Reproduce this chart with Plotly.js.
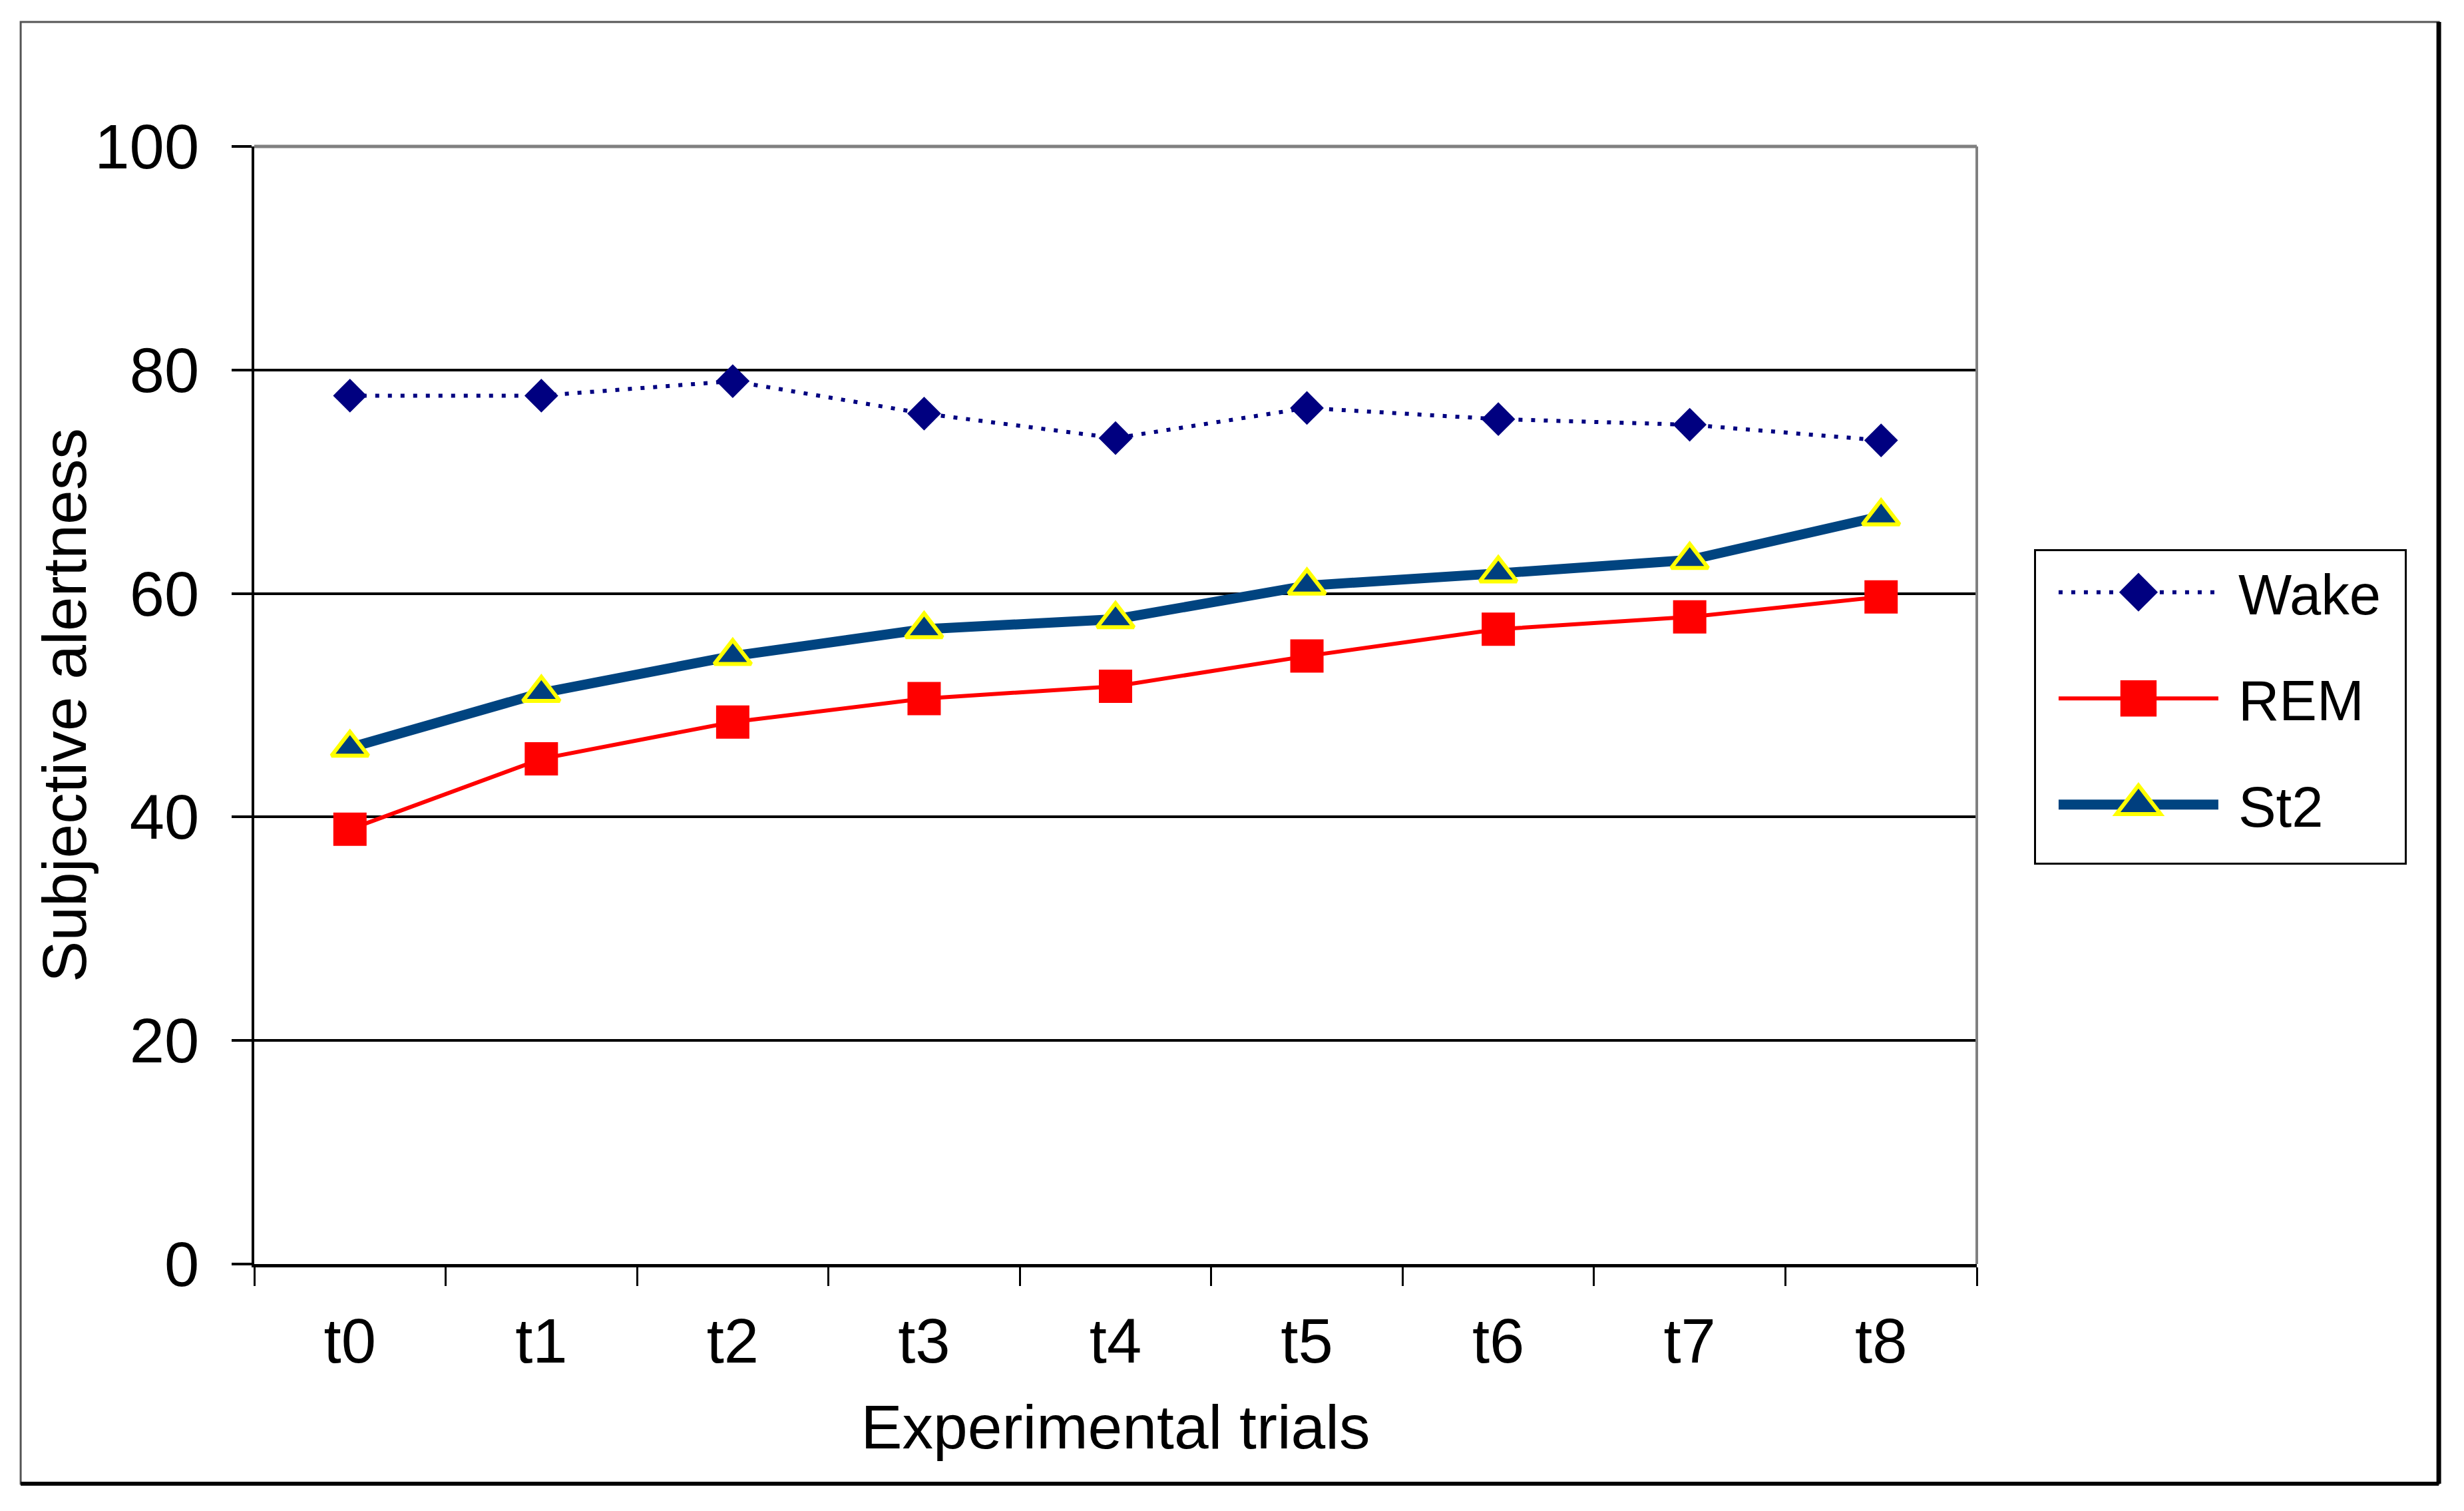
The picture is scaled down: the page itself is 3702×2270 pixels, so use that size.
<!DOCTYPE html>
<html>
<head>
<meta charset="utf-8">
<script src="https://cdn.plot.ly/plotly-3.0.1.min.js"></script>
<style>
  html, body { margin: 0; padding: 0; background: #fff; }
  #chart { width: 3702px; height: 2270px; }
</style>
</head>
<body>
<div id="chart"></div>
<script>
// ---- data ----
const trials = ["t0", "t1", "t2", "t3", "t4", "t5", "t6", "t7", "t8"];
const wake = [77.7, 77.7, 79.0, 76.1, 73.9, 76.6, 75.6, 75.1, 73.7];
const rem  = [38.9, 45.2, 48.5, 50.6, 51.7, 54.4, 56.8, 57.9, 59.7];
const st2  = [46.2, 51.1, 54.4, 56.8, 57.7, 60.7, 61.8, 63.0, 66.9];
const yTicks = [0, 20, 40, 60, 80, 100];

const FONT = "Liberation Sans, Arial, Helvetica, sans-serif";

const traces = [
  {
    x: trials, y: wake, name: "Wake", type: "scatter", mode: "lines+markers",
    legendgroup: "a",
    line: { color: "#000080", width: 6, dash: "6px,13px" },
    marker: { symbol: "diamond", size: 39, color: "#000080" }
  },
  {
    x: trials, y: rem, name: "REM", type: "scatter", mode: "lines+markers",
    legendgroup: "b",
    line: { color: "#FF0000", width: 6 },
    marker: { symbol: "square", size: 50, color: "#FF0000" }
  },
  {
    x: trials, y: st2, name: "St2", type: "scatter", mode: "lines+markers",
    legendgroup: "c",
    line: { color: "#004480", width: 15 },
    marker: { symbol: "triangle-up", size: 48, color: "#003F7F",
              line: { color: "#FFFF00", width: 6 } }
  }
];

const layout = {
  width: 3702, height: 2270,
  margin: { l: 382, r: 732, t: 220, b: 371, pad: 0 },
  paper_bgcolor: "#ffffff", plot_bgcolor: "#ffffff",
  font: { family: FONT, color: "#000", size: 93 },
  showlegend: true,
  legend: {
    x: 1.0332, y: 0.6397, xanchor: "left", yanchor: "top",
    bordercolor: "#000", borderwidth: 3, bgcolor: "#fff",
    font: { family: FONT, size: 85, color: "#000" },
    traceorder: "grouped", tracegroupgap: 46, itemwidth: 240
  },
  xaxis: {
    type: "category", range: [-0.5, 8.5], fixedrange: true,
    showgrid: false, zeroline: false,
    showline: true, linecolor: "#000", linewidth: 5,
    ticks: "outside", tickson: "boundaries", ticklen: 28, tickwidth: 3, tickcolor: "#000",
    tickfont: { family: FONT, size: 94, color: "#000" },
    ticklabelstandoff: 30,
    title: { text: "Experimental trials", font: { family: FONT, size: 93, color: "#000" }, standoff: 47 }
  },
  yaxis: {
    range: [0, 100], tickvals: yTicks, fixedrange: true,
    showgrid: true, gridcolor: "#000", gridwidth: 4, zeroline: false,
    showline: true, linecolor: "#000", linewidth: 4,
    ticks: "outside", ticklen: 30, tickwidth: 4, tickcolor: "#000",
    tickfont: { family: FONT, size: 94, color: "#000" },
    ticklabelstandoff: 30,
    title: { text: "Subjective alertness", font: { family: FONT, size: 93, color: "#000" }, standoff: 0 }
  },
  shapes: [
    // plot area top and right border (gray)
    { type: "line", xref: "paper", yref: "paper", x0: 0, x1: 1, y0: 1, y1: 1,
      line: { color: "#808080", width: 5 }, layer: "above" },
    { type: "line", xref: "paper", yref: "paper", x0: 1, x1: 1, y0: 0, y1: 1,
      line: { color: "#808080", width: 4 }, layer: "above" },
    // outer chart frame
    { type: "rect", xref: "paper", yref: "paper", x0: -0.1356, x1: 1.2682, y0: -0.1965, y1: 1.1114,
      line: { color: "#555", width: 3 }, layer: "below" },
    { type: "line", xref: "paper", yref: "paper", x0: 1.2682, x1: 1.2682, y0: -0.1965, y1: 1.1114,
      line: { color: "#000", width: 7 }, layer: "above" },
    { type: "line", xref: "paper", yref: "paper", x0: -0.1356, x1: 1.2682, y0: -0.1965, y1: -0.1965,
      line: { color: "#000", width: 6 }, layer: "above" }
  ]
};

// legend symbol tuning (Plotly caps legend marker size at 16px)
const legendTune = {
  "Wake": { scale: 2.8, strokeWidth: 0, lineWidth: null },
  "REM":  { scale: 3.4, strokeWidth: 0, lineWidth: null },
  "St2":  { scale: 3.6, strokeWidth: 6, lineWidth: 15 }
};
const LEG_SHIFT_SYMBOL = 29, LEG_SHIFT_TEXT = 54, LEG_W = 557, LEG_H = 471;
const YTITLE_SHIFT = 17;

const gd = document.getElementById("chart");
Plotly.newPlot(gd, traces, layout, { staticPlot: true, displayModeBar: false }).then(function () {
  try {
    const leg = gd.querySelector(".legend");
    if (leg) {
      leg.querySelectorAll(".traces").forEach(function (tr) {
        const txt = tr.querySelector(".legendtext");
        const name = txt ? txt.textContent : "";
        const tune = legendTune[name];
        if (txt) {
          const x0 = parseFloat(txt.getAttribute("x")) || 0;
          txt.setAttribute("x", x0 + LEG_SHIFT_TEXT);
        }
        tr.querySelectorAll("path").forEach(function (p) {
          const t = p.getAttribute("transform") || "";
          let nt = "translate(" + LEG_SHIFT_SYMBOL + ",0) " + t;
          if (tune && p.classList.contains("scatterpts")) {
            nt += " scale(" + tune.scale + ")";
            p.style.strokeWidth = (tune.strokeWidth / tune.scale) + "px";
          }
          p.setAttribute("transform", nt);
          if (tune && tune.lineWidth && p.classList.contains("js-line")) {
            p.style.strokeWidth = tune.lineWidth + "px";
          }
        });
      });
      const bg = leg.querySelector("rect.bg");
      if (bg) { bg.setAttribute("width", LEG_W); bg.setAttribute("height", LEG_H); }
      document.querySelectorAll("clipPath[id^='legend'] rect").forEach(function (r) {
        r.setAttribute("width", LEG_W); r.setAttribute("height", LEG_H);
      });
    }
    const yt = gd.querySelector(".g-ytitle");
    if (yt) yt.setAttribute("transform", "translate(" + YTITLE_SHIFT + ",0)");
  } catch (e) { console.log(e); }
});
</script>
</body>
</html>
